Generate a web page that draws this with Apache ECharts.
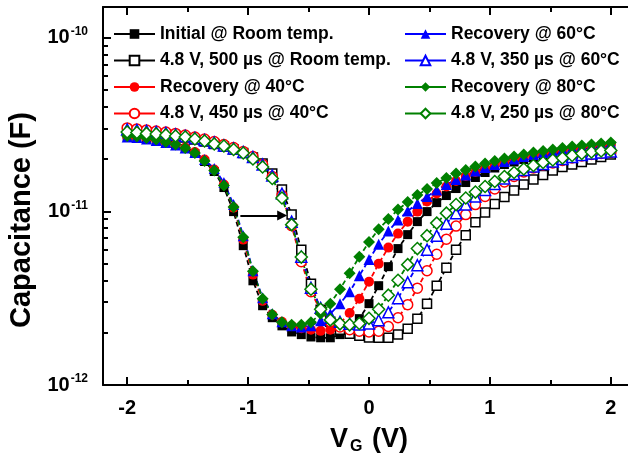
<!DOCTYPE html>
<html>
<head>
<meta charset="utf-8">
<script src="https://cdn.jsdelivr.net/npm/echarts@6/dist/echarts.min.js"></script>
<style>
  html, body { margin: 0; padding: 0; background: #fff; }
  #chart { width: 628px; height: 463px; }
</style>
</head>
<body>
<div id="chart"></div>
<script>
// Gate voltage sweep (V)
const vg = [
  -2.00, -1.92, -1.84, -1.76, -1.68, -1.60, -1.52, -1.44, -1.36, -1.28,
  -1.20, -1.12, -1.04, -0.96, -0.88, -0.80, -0.72, -0.64, -0.56, -0.48,
  -0.40, -0.32, -0.24, -0.16, -0.08, 0.00, 0.08, 0.16, 0.24, 0.32,
  0.40, 0.48, 0.56, 0.64, 0.72, 0.80, 0.88, 0.96, 1.04, 1.12,
  1.20, 1.28, 1.36, 1.44, 1.52, 1.60, 1.68, 1.76, 1.84, 1.92, 2.00
];

// Measured capacitance, in pF
const initialRT = [
  26.97, 26.61, 26.09, 25.57, 24.90, 24.09, 22.99, 21.52, 19.35, 16.94,
  13.70, 9.96, 6.34, 3.98, 2.86, 2.44, 2.19, 2.02, 1.95, 1.89,
  1.87, 1.87, 1.95, 2.11, 2.41, 2.94, 3.73, 4.80, 6.10, 7.34,
  8.72, 9.96, 11.22, 12.32, 13.52, 14.64, 15.65, 16.72, 17.75, 18.59,
  19.22, 19.87, 20.40, 20.95, 21.38, 21.95, 22.39, 22.84, 23.30, 23.61, 23.93
];
const stress500RT = [
  29.21, 28.82, 28.44, 28.07, 27.70, 27.15, 26.61, 25.92, 25.23, 24.41,
  23.61, 22.69, 21.66, 20.40, 18.84, 16.50, 13.34, 9.57, 6.01, 3.83,
  2.71, 2.31, 2.08, 1.97, 1.92, 1.88, 1.87, 1.87, 1.95, 2.11,
  2.41, 2.94, 3.73, 4.73, 6.01, 7.29, 8.66, 9.83, 11.00, 12.08,
  13.17, 14.26, 15.24, 16.17, 17.17, 17.99, 18.59, 19.22, 19.87, 20.54, 21.23
];
const recovery40 = [
  26.97, 26.79, 26.26, 25.74, 25.07, 24.25, 23.30, 21.95, 19.87, 17.40,
  14.26, 10.50, 6.87, 4.32, 3.05, 2.54, 2.31, 2.19, 2.12, 2.08,
  2.05, 2.08, 2.26, 2.60, 3.14, 3.93, 4.99, 6.18, 7.44, 8.72,
  9.96, 11.38, 12.65, 13.88, 14.94, 15.96, 16.83, 17.75, 18.59, 19.35,
  20.00, 20.54, 21.09, 21.52, 21.95, 22.39, 22.84, 23.30, 23.77, 24.09, 24.41
];
const stress450at40 = [
  30.19, 29.80, 29.40, 29.01, 28.63, 28.07, 27.51, 26.79, 26.09, 25.23,
  24.25, 23.30, 22.10, 20.68, 18.59, 15.85, 12.32, 8.27, 5.13, 3.44,
  2.68, 2.31, 2.16, 2.08, 2.04, 2.02, 2.04, 2.17, 2.44, 2.90,
  3.61, 4.55, 5.66, 6.91, 8.22, 9.57, 10.93, 12.16, 13.43, 14.74,
  15.85, 16.83, 17.75, 18.47, 18.96, 19.61, 20.27, 20.82, 21.23, 21.52, 21.81
];
const recovery60 = [
  26.79, 26.61, 26.09, 25.57, 24.90, 24.09, 23.15, 21.81, 19.87, 17.63,
  14.64, 10.93, 7.24, 4.55, 3.18, 2.57, 2.31, 2.19, 2.16, 2.19,
  2.34, 2.57, 2.94, 3.44, 4.26, 5.27, 6.47, 7.69, 8.90, 10.03,
  11.08, 12.16, 13.26, 14.26, 15.24, 16.17, 17.05, 17.87, 18.59, 19.35,
  20.00, 20.68, 21.23, 21.81, 22.25, 22.69, 23.15, 23.61, 23.93, 24.25, 24.57
];
const stress350at60 = [
  29.60, 29.40, 29.01, 28.63, 28.25, 27.70, 27.15, 26.44, 25.74, 24.90,
  23.93, 22.99, 21.95, 20.54, 18.59, 16.07, 12.65, 8.72, 5.48, 3.63,
  2.78, 2.44, 2.31, 2.25, 2.23, 2.26, 2.36, 2.62, 3.16, 3.90,
  4.89, 6.01, 7.24, 8.49, 9.76, 10.93, 12.16, 13.26, 14.35, 15.44,
  16.39, 17.28, 18.11, 18.71, 19.35, 20.00, 20.54, 21.09, 21.52, 21.81, 22.10
];
const recovery80 = [
  27.15, 26.97, 26.44, 25.92, 25.07, 24.25, 23.15, 21.66, 19.48, 17.17,
  14.07, 10.57, 7.10, 4.52, 3.14, 2.55, 2.30, 2.22, 2.22, 2.30,
  2.57, 2.94, 3.56, 4.40, 5.48, 6.65, 7.89, 9.02, 10.23, 11.30,
  12.40, 13.43, 14.54, 15.55, 16.50, 17.28, 18.11, 18.84, 19.48, 20.14,
  20.68, 21.23, 21.81, 22.25, 22.69, 23.15, 23.61, 23.93, 24.25, 24.57, 24.90
];
const stress250at80 = [
  28.63, 28.44, 28.07, 27.88, 27.51, 27.15, 26.79, 26.09, 25.40, 24.41,
  23.77, 22.69, 21.66, 20.00, 17.99, 15.44, 11.92, 8.38, 5.45, 3.56,
  2.73, 2.37, 2.25, 2.22, 2.26, 2.42, 2.73, 3.29, 4.01, 4.93,
  6.10, 7.24, 8.55, 9.76, 10.93, 11.92, 12.90, 13.88, 14.84, 15.85,
  16.72, 17.51, 18.35, 19.09, 19.74, 20.27, 20.95, 21.52, 21.95, 22.25, 22.39
];

// Axis ticks
const xMajorTicks = [-2, -1, 0, 1, 2];
const xMinorTicks = [-1.5, -0.5, 0.5, 1.5];
const yMajorTicks = [1e-12, 1e-11, 1e-10];
const yMinorTicks = [
  2e-12, 3e-12, 4e-12, 5e-12, 6e-12, 7e-12, 8e-12, 9e-12,
  2e-11, 3e-11, 4e-11, 5e-11, 6e-11, 7e-11, 8e-11, 9e-11
];

// Shift arrow (from the recovered curves to the stressed ones)
const arrowFrom = [-1.064, 9.45e-12];
const arrowTo = [-0.718, 9.45e-12];

const FONT = 'Liberation Sans, Arial, Helvetica, sans-serif';
const BLACK = '#000000', RED = '#ff0000', BLUE = '#0000ff', GREEN = '#008000';

const seriesDefs = [
  { name: 'Initial @ Room temp.',       data: initialRT,     color: BLACK, symbol: 'rect',     size: 9,  open: false },
  { name: '4.8 V, 500 µs @ Room temp.', data: stress500RT,   color: BLACK, symbol: 'rect',     size: 9,  open: true  },
  { name: 'Recovery @ 40°C',            data: recovery40,    color: RED,   symbol: 'circle',   size: 10, open: false },
  { name: '4.8 V, 450 µs @ 40°C',       data: stress450at40, color: RED,   symbol: 'circle',   size: 10, open: true  },
  { name: 'Recovery @ 60°C',            data: recovery60,    color: BLUE,  symbol: 'triangle', size: 11, open: false },
  { name: '4.8 V, 350 µs @ 60°C',       data: stress350at60, color: BLUE,  symbol: 'triangle', size: 11, open: true  },
  { name: 'Recovery @ 80°C',            data: recovery80,    color: GREEN, symbol: 'diamond',  size: 12, open: false },
  { name: '4.8 V, 250 µs @ 80°C',       data: stress250at80, color: GREEN, symbol: 'diamond',  size: 12, open: true  }
];

const series = seriesDefs.map((d, k) => {
  const s = {
    name: d.name,
    type: 'line',
    xAxisIndex: 0,
    yAxisIndex: 0,
    data: vg.map((v, i) => [v, d.data[i] * 1e-12]),
    symbol: d.symbol,
    symbolSize: d.size,
    showSymbol: true,
    lineStyle: { color: d.color, width: 1.8, type: [5, 3] },
    itemStyle: d.open
      ? { color: '#ffffff', borderColor: d.color, borderWidth: 1.5 }
      : { color: d.color, borderColor: d.color, borderWidth: 0 },
    emphasis: { disabled: true },
    animation: false
  };
  if (k === 0) {
    s.markLine = {
      silent: true,
      animation: false,
      symbol: ['none', 'triangle'],
      symbolSize: [10, 10],
      label: { show: false },
      lineStyle: { color: BLACK, width: 2, type: 'solid' },
      emphasis: { disabled: true },
      data: [[{ coord: arrowFrom }, { coord: arrowTo }]]
    };
  }
  return s;
});

const legendCommon = {
  orient: 'vertical',
  padding: 0,
  itemWidth: 41,
  itemHeight: 12,
  itemGap: 8.5,
  selectedMode: false,
  textStyle: { fontFamily: FONT, fontSize: 17.5, fontWeight: 'bold', color: BLACK, lineHeight: 18 },
  lineStyle: { type: 'solid', width: 2 }
};

const frameLine = { show: true, onZero: false, lineStyle: { color: BLACK, width: 2 } };
const hiddenLine = { show: false, onZero: false };
const tickLine = { color: BLACK, width: 2 };

const xBase = { type: 'value', min: -2.2, max: 2.2, splitLine: { show: false } };
const yBase = { type: 'log', logBase: 10, min: 1e-12, max: 1.5e-10, splitLine: { show: false } };

const option = {
  backgroundColor: '#ffffff',
  animation: false,
  // the frame runs past the right edge of the canvas, so keep the grid exactly where it is placed
  grid: { left: 103, top: 7, width: 532, height: 378, containLabel: false, outerBoundsMode: 'none' },
  legend: [
    Object.assign({}, legendCommon, { left: 113, top: 25, data: seriesDefs.slice(0, 4).map(d => d.name) }),
    Object.assign({}, legendCommon, { left: 404, top: 25, data: seriesDefs.slice(4).map(d => d.name) })
  ],
  xAxis: [
    Object.assign({}, xBase, {
      position: 'bottom',
      axisLine: frameLine,
      axisTick: { show: true, inside: true, length: 8, customValues: xMajorTicks, lineStyle: tickLine },
      axisLabel: {
        show: true, customValues: xMajorTicks, margin: 13,
        fontFamily: FONT, fontSize: 20, fontWeight: 'bold', color: BLACK
      },
      name: '{v|V}{g|G}{v| (V)}',
      nameLocation: 'middle',
      nameGap: 40,
      nameTextStyle: {
        rich: {
          v: { fontFamily: FONT, fontSize: 27, fontWeight: 'bold', color: BLACK, lineHeight: 30 },
          g: { fontFamily: FONT, fontSize: 16, fontWeight: 'bold', color: BLACK, verticalAlign: 'bottom', lineHeight: 16, padding: [0, 2, 0, 2] }
        }
      }
    }),
    Object.assign({}, xBase, {
      position: 'bottom',
      axisLine: hiddenLine,
      axisTick: { show: true, inside: true, length: 5, customValues: xMinorTicks, lineStyle: tickLine },
      axisLabel: { show: false }
    }),
    Object.assign({}, xBase, {
      position: 'top',
      axisLine: frameLine,
      axisTick: { show: true, inside: true, length: 8, customValues: xMajorTicks, lineStyle: tickLine },
      axisLabel: { show: false }
    }),
    Object.assign({}, xBase, {
      position: 'top',
      axisLine: hiddenLine,
      axisTick: { show: true, inside: true, length: 5, customValues: xMinorTicks, lineStyle: tickLine },
      axisLabel: { show: false }
    })
  ],
  yAxis: [
    Object.assign({}, yBase, {
      position: 'left',
      axisLine: frameLine,
      axisTick: { show: true, inside: true, length: 8, customValues: yMajorTicks, lineStyle: tickLine },
      axisLabel: {
        show: true, customValues: yMajorTicks, margin: 15,
        formatter: (val) => '{b|10}{s|' + Math.round(Math.log10(val)) + '}',
        rich: {
          b: { fontFamily: FONT, fontSize: 20, fontWeight: 'bold', color: BLACK, lineHeight: 24 },
          s: { fontFamily: FONT, fontSize: 12, fontWeight: 'bold', color: BLACK, verticalAlign: 'top', lineHeight: 14, padding: [0, 0, 0, 1] }
        }
      },
      name: 'Capacitance (F)',
      nameLocation: 'middle',
      nameGap: 62,
      nameTextStyle: {
        fontFamily: FONT, fontSize: 29, fontWeight: 'bold', color: BLACK,
        padding: [0, 48, 0, 0]
      }
    }),
    Object.assign({}, yBase, {
      position: 'left',
      axisLine: hiddenLine,
      axisTick: { show: true, inside: true, length: 5, customValues: yMinorTicks, lineStyle: tickLine },
      axisLabel: { show: false }
    })
  ],
  series: series
};

const chart = echarts.init(document.getElementById('chart'), null, { renderer: 'canvas' });
chart.setOption(option);
</script>
</body>
</html>
